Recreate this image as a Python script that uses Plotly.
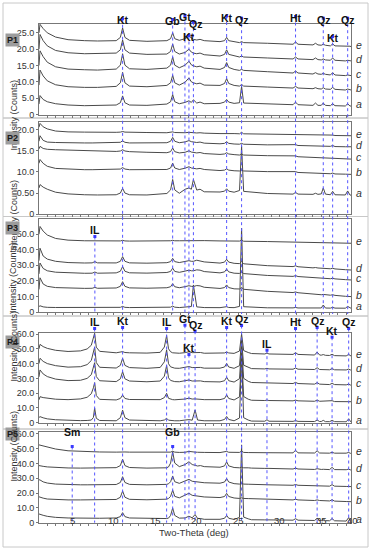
import plotly.graph_objects as go

# 2-theta sampling points (deg) shared by the traces of panels P1-P3 and P4-P5
GRID_A = [1.0, 1.12, 1.5, 2.0, 3.0, 4.5, 6.5, 7.4, 7.73, 8.05, 10.3, 10.8, 11.07, 11.35, 11.9, 14.0,
          16.4, 16.85, 17.1, 17.35, 17.9, 18.6, 19.06, 19.35, 19.6, 20.0, 20.4, 20.9, 22.8, 23.35,
          23.6, 23.85, 24.5, 25.15, 25.4, 25.65, 28.5, 31.6, 31.9, 32.2, 34.0, 34.3, 34.6, 35.0,
          35.24, 35.5, 36.1, 36.37, 36.65, 37.9, 38.18, 38.45, 38.58]
GRID_B = [1.0, 1.12, 1.5, 2.0, 3.0, 4.5, 6.0, 6.8, 7.3, 7.55, 7.7, 7.9, 8.3, 10.3, 10.8, 11.07, 11.35,
          11.9, 14.0, 15.6, 16.1, 16.37, 16.6, 16.85, 17.1, 17.35, 17.9, 18.6, 19.06, 19.45, 19.8,
          20.1, 20.45, 20.9, 22.8, 23.35, 23.6, 23.85, 24.5, 25.15, 25.4, 25.65, 26.2, 26.6, 28.2,
          28.46, 28.7, 31.6, 31.9, 32.2, 34.2, 34.5, 34.8, 35.0, 35.24, 35.5, 36.0, 36.3, 36.6,
          38.0, 38.3, 38.5, 38.58]

# intensities (counts, stacked)
P1_E = [25.0, 27.6, 26.3, 25.0, 23.7, 22.9, 22.6, 22.5, 22.5, 22.5, 22.6, 23.6, 26.5, 23.6, 22.7, 22.4, 22.6, 23.2, 25.0, 23.2, 22.7, 23.2, 24.0, 23.3, 23.0, 22.8, 23.0, 22.6, 22.3, 22.6, 23.6, 22.6, 22.2, 22.0, 22.3, 22.0, 21.8, 21.5, 22.2, 21.5, 21.3, 21.8, 21.3, 21.2, 21.5, 21.2, 21.0, 21.6, 21.0, 20.9, 21.1, 20.9, 20.8]
P1_D = [20.0, 24.5, 22.6, 21.0, 19.6, 18.9, 18.6, 18.6, 18.6, 18.6, 18.8, 19.8, 22.8, 19.8, 18.8, 18.4, 18.5, 19.3, 21.6, 19.3, 18.5, 19.0, 20.0, 19.1, 18.8, 18.6, 18.8, 18.3, 17.9, 18.4, 19.8, 18.4, 17.9, 17.6, 17.9, 17.6, 17.3, 17.0, 17.6, 17.0, 16.8, 17.3, 16.8, 16.7, 17.0, 16.7, 16.6, 17.3, 16.6, 16.4, 16.6, 16.4, 16.4]
P1_C = [15.0, 19.5, 17.7, 16.0, 14.6, 13.9, 13.7, 13.6, 13.6, 13.6, 13.9, 15.1, 18.6, 15.1, 14.0, 13.8, 14.2, 15.1, 17.6, 15.1, 14.3, 15.1, 16.3, 15.2, 14.9, 14.6, 14.8, 14.2, 13.8, 14.4, 15.9, 14.4, 13.8, 13.5, 13.8, 13.5, 13.1, 12.7, 13.3, 12.7, 12.4, 12.8, 12.4, 12.3, 12.6, 12.3, 12.1, 12.8, 12.1, 11.9, 12.1, 11.9, 11.9]
P1_B = [9.0, 13.6, 11.8, 10.3, 9.1, 8.5, 8.3, 8.3, 8.3, 8.3, 8.6, 9.7, 12.9, 9.7, 8.7, 8.5, 8.9, 9.7, 12.0, 9.7, 9.0, 9.9, 11.2, 10.0, 9.7, 9.4, 9.6, 9.0, 8.9, 9.5, 11.0, 9.5, 8.9, 8.7, 9.2, 8.7, 8.4, 8.1, 8.6, 8.1, 7.9, 8.2, 7.9, 7.8, 8.2, 7.8, 7.7, 8.3, 7.7, 7.5, 7.8, 7.5, 7.5]
P1_A = [3.2, 5.8, 4.6, 3.9, 3.3, 2.9, 2.7, 2.7, 2.7, 2.7, 2.9, 3.6, 5.7, 3.6, 2.9, 2.8, 3.2, 3.9, 6.1, 3.9, 3.3, 3.7, 4.2, 3.7, 4.5, 3.5, 3.8, 3.3, 3.4, 3.8, 4.6, 3.8, 3.4, 3.6, 8.6, 3.5, 3.2, 3.0, 3.8, 3.0, 2.8, 3.5, 2.8, 2.8, 3.5, 2.8, 2.7, 3.3, 2.7, 2.6, 3.3, 2.6, 2.6]

P2_E = [20.5, 21.4, 20.6, 20.1, 19.6, 19.4, 19.35, 19.3, 19.3, 19.3, 19.3, 19.35, 19.5, 19.35, 19.3, 19.25, 19.2, 19.25, 19.4, 19.25, 19.2, 19.2, 19.3, 19.2, 19.2, 19.15, 19.2, 19.1, 19.0, 19.0, 19.15, 19.0, 19.0, 18.95, 19.3, 18.95, 18.85, 18.8, 18.9, 18.75, 18.7, 18.75, 18.65, 18.65, 18.7, 18.6, 18.6, 18.65, 18.55, 18.5, 18.55, 18.5, 18.5]
P2_D = [17.2, 18.5, 17.4, 17.0, 16.9, 16.8, 16.8, 16.8, 16.8, 16.8, 16.8, 16.95, 17.3, 16.95, 16.8, 16.8, 16.85, 17.2, 18.1, 17.2, 16.85, 17.05, 17.35, 17.1, 17.0, 16.9, 17.0, 16.75, 16.6, 16.7, 17.1, 16.7, 16.55, 16.5, 16.7, 16.5, 16.35, 16.25, 16.4, 16.2, 16.1, 16.2, 16.1, 16.05, 16.1, 16.0, 16.0, 16.2, 15.95, 15.9, 15.95, 15.9, 15.9]
P2_C = [15.4, 16.0, 15.5, 15.3, 15.2, 15.1, 15.0, 15.0, 14.9, 14.9, 14.8, 14.9, 15.2, 14.9, 14.75, 14.6, 14.5, 14.75, 15.6, 14.75, 14.45, 14.6, 14.95, 14.65, 14.55, 14.45, 14.55, 14.3, 14.1, 14.2, 14.5, 14.2, 14.05, 13.95, 14.15, 13.95, 13.8, 13.6, 13.75, 13.55, 13.4, 13.5, 13.35, 13.3, 13.4, 13.25, 13.2, 13.35, 13.15, 13.05, 13.1, 13.0, 13.0]
P2_B = [12.0, 12.9, 12.0, 11.3, 10.8, 10.6, 10.5, 10.5, 10.5, 10.5, 10.5, 10.65, 11.0, 10.65, 10.5, 10.45, 10.55, 10.9, 12.05, 10.9, 10.55, 10.85, 11.2, 10.9, 10.8, 10.7, 10.8, 10.55, 10.3, 10.4, 10.7, 10.4, 10.25, 10.2, 10.4, 10.2, 10.05, 9.9, 10.05, 9.85, 9.7, 9.8, 9.65, 9.6, 9.7, 9.55, 9.55, 9.7, 9.5, 9.45, 9.5, 9.4, 9.4]
P2_A = [6.2, 7.0, 6.4, 5.9, 5.2, 4.8, 4.6, 4.55, 4.55, 4.55, 4.6, 5.0, 6.1, 5.0, 4.6, 4.55, 4.9, 5.75, 8.2, 5.75, 4.95, 5.9, 6.2, 5.9, 8.2, 5.7, 5.9, 5.3, 5.25, 5.45, 6.0, 5.45, 5.2, 5.6, 16.0, 5.4, 4.9, 4.75, 5.15, 4.75, 4.7, 4.95, 4.7, 4.8, 6.2, 4.75, 4.6, 5.4, 4.6, 4.55, 5.5, 4.55, 4.5]

P3_E = [50.0, 55.0, 52.0, 49.5, 47.3, 46.2, 45.8, 45.7, 45.9, 45.7, 45.6, 45.7, 46.1, 45.7, 45.6, 45.6, 45.7, 45.8, 46.1, 45.8, 45.8, 45.9, 46.1, 45.9, 46.0, 45.9, 46.0, 45.9, 45.7, 45.7, 46.0, 45.7, 45.6, 45.6, 46.2, 45.5, 45.3, 45.0, 45.3, 45.0, 44.8, 44.9, 44.8, 44.7, 44.8, 44.6, 44.5, 44.7, 44.5, 44.3, 44.4, 44.2, 44.2]
P3_D = [33.0, 41.0, 36.0, 34.0, 32.6, 31.8, 31.5, 31.6, 32.4, 31.6, 31.55, 32.6, 35.6, 32.6, 31.6, 31.4, 31.7, 32.4, 34.5, 32.4, 31.8, 32.4, 33.0, 32.6, 32.6, 33.3, 33.0, 32.2, 31.45, 32.1, 33.9, 32.1, 31.3, 31.1, 32.5, 31.0, 29.8, 29.2, 29.7, 29.1, 28.4, 28.6, 28.3, 28.1, 28.3, 28.0, 27.8, 28.1, 27.7, 27.2, 27.3, 27.1, 27.0]
P3_C = [24.5, 31.5, 28.0, 26.5, 25.6, 25.1, 24.9, 24.95, 25.7, 24.95, 25.15, 26.2, 29.2, 26.2, 25.2, 25.0, 25.4, 26.1, 28.2, 26.1, 25.5, 26.3, 26.9, 26.5, 26.5, 27.1, 26.9, 26.0, 25.15, 25.8, 27.6, 25.8, 24.95, 24.8, 26.0, 24.7, 23.5, 22.9, 23.4, 22.8, 22.0, 22.2, 21.9, 21.7, 21.9, 21.6, 21.4, 21.7, 21.3, 20.8, 20.9, 20.7, 20.6]
P3_B = [14.5, 22.0, 18.0, 16.5, 15.7, 15.3, 15.2, 15.25, 15.8, 15.25, 15.45, 16.5, 19.5, 16.5, 15.5, 15.3, 15.6, 16.25, 18.2, 16.25, 15.6, 16.3, 16.9, 16.5, 16.4, 17.0, 16.8, 15.9, 15.15, 15.7, 17.4, 15.7, 14.9, 14.8, 15.8, 14.6, 13.3, 12.5, 12.9, 12.4, 11.4, 11.6, 11.3, 11.1, 11.3, 11.0, 10.8, 11.1, 10.7, 10.1, 10.2, 10.0, 9.9]
P3_A = [3.5, 4.0, 3.3, 3.0, 2.9, 2.85, 2.8, 2.8, 3.0, 2.8, 2.85, 3.0, 3.6, 3.0, 2.85, 2.8, 2.85, 3.1, 3.8, 3.1, 2.85, 2.9, 3.4, 3.5, 17.4, 3.3, 3.1, 2.85, 2.8, 2.9, 3.4, 2.9, 2.8, 3.6, 53.9, 3.4, 2.7, 2.65, 2.9, 2.6, 2.6, 2.7, 2.6, 2.6, 4.5, 2.55, 2.5, 3.0, 2.5, 2.45, 3.6, 2.45, 2.4]

P4_E = [50.0, 53.0, 51.5, 50.3, 49.0, 48.2, 48.6, 49.9, 52.4, 56.7, 60.5, 51.1, 48.3, 47.3, 47.5, 48.1, 47.5, 47.3, 47.1, 47.6, 51.2, 59.0, 50.0, 48.0, 47.3, 47.1, 47.0, 47.4, 48.0, 47.4, 47.5, 47.2, 47.5, 47.0, 46.9, 47.2, 47.9, 47.2, 46.9, 48.5, 60.1, 48.8, 47.5, 46.8, 46.5, 47.1, 46.5, 46.2, 47.4, 46.2, 45.8, 47.8, 45.8, 45.7, 46.1, 45.6, 45.5, 46.3, 45.4, 45.2, 46.2, 45.1, 45.1]
P4_D = [40.0, 43.6, 41.5, 40.0, 38.6, 37.6, 37.9, 39.3, 42.1, 47.0, 51.2, 40.7, 37.5, 37.0, 38.8, 43.6, 38.8, 37.3, 36.8, 37.4, 41.2, 49.3, 39.9, 37.8, 37.1, 36.9, 36.8, 37.3, 38.0, 37.3, 37.4, 37.1, 37.4, 36.9, 36.9, 37.7, 40.1, 37.7, 36.8, 38.6, 56.0, 38.9, 37.3, 36.6, 36.4, 36.8, 36.4, 36.2, 37.0, 36.2, 36.0, 37.2, 36.0, 35.9, 36.2, 35.9, 35.8, 36.6, 35.8, 35.7, 36.3, 35.7, 35.7]
P4_C = [31.0, 35.7, 33.0, 31.2, 29.5, 28.5, 28.7, 30.0, 32.5, 36.8, 40.6, 31.2, 28.4, 27.8, 29.7, 34.5, 29.7, 28.2, 27.7, 28.2, 31.5, 38.7, 30.4, 28.6, 28.0, 27.8, 27.7, 28.2, 28.9, 28.2, 28.3, 28.0, 28.3, 27.8, 27.6, 28.4, 30.8, 28.4, 27.5, 29.8, 52.0, 30.0, 28.0, 27.2, 26.9, 27.3, 26.9, 26.5, 27.3, 26.5, 26.1, 27.1, 26.1, 26.0, 26.3, 25.9, 25.8, 26.6, 25.8, 25.6, 26.1, 25.5, 25.5]
P4_B = [15.5, 17.6, 17.0, 16.5, 15.9, 15.6, 16.1, 17.2, 19.6, 23.6, 27.1, 18.4, 15.8, 15.4, 16.4, 18.7, 16.4, 15.7, 15.4, 15.6, 17.0, 19.9, 16.5, 15.8, 15.6, 15.5, 15.5, 16.0, 16.6, 16.0, 16.1, 15.9, 16.1, 15.6, 15.6, 16.4, 18.8, 16.4, 15.4, 17.5, 47.0, 17.7, 15.9, 15.2, 15.0, 15.3, 15.0, 14.8, 15.3, 14.8, 14.5, 15.3, 14.5, 14.5, 14.7, 14.4, 14.4, 14.9, 14.3, 14.2, 14.6, 14.2, 14.2]
P4_A = [3.5, 4.1, 3.3, 2.6, 2.0, 1.6, 1.4, 1.5, 1.8, 3.5, 9.9, 3.0, 1.5, 1.3, 3.4, 8.5, 3.4, 1.8, 1.3, 1.3, 1.8, 3.0, 1.7, 1.4, 1.3, 1.3, 1.3, 1.5, 2.1, 1.7, 8.6, 1.8, 1.6, 1.3, 1.3, 2.2, 4.2, 2.2, 1.3, 3.2, 45.0, 3.4, 1.8, 1.1, 1.0, 2.0, 1.0, 0.9, 1.4, 0.9, 0.8, 1.8, 0.8, 0.8, 1.6, 0.7, 0.7, 1.6, 0.7, 0.6, 2.6, 0.6, 0.5]

P5_E = [52.6, 52.4, 51.8, 51.0, 49.8, 48.6, 48.1, 48.0, 47.9, 47.9, 47.9, 47.9, 47.8, 47.7, 47.8, 48.1, 47.8, 47.7, 47.6, 47.5, 47.5, 47.5, 47.5, 47.7, 48.3, 47.7, 47.5, 47.6, 48.2, 47.7, 47.7, 47.6, 47.7, 47.5, 47.4, 47.6, 48.2, 47.6, 47.4, 47.5, 48.4, 47.5, 47.4, 47.3, 47.3, 47.3, 47.3, 47.2, 49.0, 47.2, 47.1, 48.6, 47.1, 47.1, 47.3, 47.0, 47.0, 47.6, 47.0, 47.0, 47.5, 46.9, 46.9]
P5_D = [38.6, 38.6, 38.1, 37.7, 37.3, 37.0, 36.9, 36.9, 36.9, 36.9, 36.9, 36.9, 36.9, 37.2, 38.6, 42.9, 38.6, 37.3, 36.9, 36.9, 37.0, 37.1, 37.7, 40.3, 48.0, 40.3, 37.9, 39.3, 41.2, 39.3, 38.8, 38.3, 38.6, 37.9, 37.5, 38.4, 41.1, 38.4, 37.3, 37.1, 37.6, 37.1, 37.1, 36.9, 36.7, 36.8, 36.7, 36.3, 36.9, 36.3, 36.0, 36.5, 36.0, 36.0, 36.1, 35.9, 35.9, 37.4, 35.9, 35.8, 36.2, 35.7, 35.7]
P5_C = [29.0, 28.9, 27.6, 26.8, 26.1, 25.7, 25.6, 25.6, 25.6, 25.6, 25.6, 25.6, 25.6, 25.8, 27.2, 31.1, 27.2, 25.9, 25.6, 25.7, 25.8, 25.9, 26.3, 27.7, 31.6, 27.7, 26.6, 28.0, 29.3, 28.0, 27.8, 27.4, 27.6, 27.0, 26.7, 27.5, 29.9, 27.5, 26.4, 26.1, 26.5, 26.1, 26.0, 25.9, 25.6, 25.7, 25.6, 25.3, 25.8, 25.3, 25.0, 25.4, 25.0, 24.9, 25.0, 24.8, 24.7, 25.7, 24.7, 24.5, 24.7, 24.4, 24.4]
P5_B = [17.5, 17.2, 16.6, 16.0, 15.6, 15.4, 15.4, 15.4, 15.4, 15.4, 15.4, 15.4, 15.4, 15.7, 17.2, 21.4, 17.2, 15.8, 15.5, 15.7, 15.8, 15.9, 16.4, 17.8, 22.0, 17.8, 16.8, 18.4, 19.9, 18.5, 18.2, 17.8, 18.0, 17.4, 17.0, 17.7, 19.8, 17.7, 16.7, 16.4, 16.8, 16.4, 16.3, 16.2, 15.8, 15.9, 15.8, 15.4, 15.9, 15.4, 15.0, 15.4, 15.0, 14.9, 15.0, 14.8, 14.7, 15.5, 14.6, 14.3, 14.5, 14.2, 14.2]
P5_A = [5.9, 5.8, 5.0, 4.3, 3.6, 3.2, 3.0, 3.0, 3.0, 3.0, 3.0, 3.0, 3.0, 3.2, 4.1, 6.8, 4.1, 3.2, 2.9, 2.8, 2.8, 2.8, 3.1, 4.9, 9.9, 4.9, 3.1, 3.2, 4.4, 3.3, 5.5, 2.9, 2.8, 2.3, 2.3, 3.0, 4.9, 3.0, 2.2, 3.6, 52.6, 3.8, 2.6, 2.0, 1.9, 2.1, 1.9, 1.7, 2.7, 1.7, 1.5, 3.0, 1.5, 1.5, 2.4, 1.4, 1.3, 2.8, 1.3, 1.1, 3.5, 1.0, 1.0]

SAMPLES = ["a", "b", "c", "d", "e"]
PANEL_NAMES = ["P1", "P2", "P3", "P4", "P5"]

# reference peak positions (deg) and mineral names
PEAKS_A = [11.07, 17.1, 18.58, 19.06, 19.6, 23.6, 25.4, 31.9, 35.24, 36.37, 38.18]
NAMES_A = ["Kt", "Gb", "Gt", "Kt", "Qz", "Kt", "Qz", "Ht", "Qz", "Kt", "Qz"]
PEAKS_P3 = [7.73]
NAMES_P3 = ["IL"]
PEAKS_B = [7.7, 11.07, 16.37, 18.58, 19.06, 19.8, 23.6, 25.4, 28.46, 31.9, 34.5, 36.3, 38.3]
NAMES_B = ["IL", "Kt", "IL", "Gt", "Kt", "Qz", "Kt", "Qz", "IL", "Ht", "Qz", "Kt", "Qz"]
PEAKS_P5 = [5.0, 17.1]
NAMES_P5 = ["Sm", "Gb"]

Y_TICKS = [
    ([0, 5, 10, 15, 20, 25], ["0", "5.0", "10.0", "15.0", "20.0", "25.0"]),
    ([0, 5, 10, 15, 20], ["0", "0.50", "10.0", "15.0", "20.0"]),
    ([0, 10, 20, 30, 40, 50], ["0", "10.0", "20.0", "30.0", "40.0", "50.0"]),
    ([0, 10, 20, 30, 40, 50, 60], ["0", "10.0", "20.0", "30.0", "40.0", "50.0", "60.0"]),
    ([0, 10, 20, 30, 40, 50, 60], ["0", "10.0", "20.0", "30.0", "40.0", "50.0", "60.0"]),
]
X_TICKS = [5, 10, 15, 20, 25, 30, 35]

W, H = 372, 550
FONT = "Arial, 'Liberation Sans', sans-serif"
XRANGE = [1.0, 38.58]
XDOM = [39 / W, 351 / W]
# pixel top/bottom of each plot area and its y-range top
BOXES = [(24, 114.5, 27.7), (121.7, 214.3, 21.8), (219, 312, 59.8), (332.7, 422.7, 60.9), (432.3, 522.7, 61.1)]
FRAMES = [(3, 118), (118, 216.5), (216.5, 316), (316, 429), (429, 547)]
TITLE_Y = [78, 178, 278, 384, 484]


def yp(py):
    return 1 - py / H


panels = [
    (GRID_A, [P1_A, P1_B, P1_C, P1_D, P1_E]),
    (GRID_A, [P2_A, P2_B, P2_C, P2_D, P2_E]),
    (GRID_A, [P3_A, P3_B, P3_C, P3_D, P3_E]),
    (GRID_B, [P4_A, P4_B, P4_C, P4_D, P4_E]),
    (GRID_B, [P5_A, P5_B, P5_C, P5_D, P5_E]),
]

fig = go.Figure()
annotations = []
shapes = []
layout = {}

for i, (grid, series) in enumerate(panels):
    n = i + 1
    xa, ya = ("x", "y") if n == 1 else (f"x{n}", f"y{n}")
    for name, vals in zip(SAMPLES, series):
        assert len(vals) == len(grid), (PANEL_NAMES[i], name, len(vals))
        fig.add_trace(go.Scatter(x=grid, y=vals, mode="lines", xaxis=xa, yaxis=ya,
                                 line=dict(color="#4a4a4a", width=1), showlegend=False,
                                 hoverinfo="skip"))
        annotations.append(dict(x=359 / W, xref="paper", xanchor="center", y=vals[-1], yref=ya,
                                yshift=2, text=f"<i>{name}</i>", showarrow=False,
                                font=dict(family=FONT, size=10.5, color="#333")))
    top, bot, ymax = BOXES[i]
    layout["xaxis" if n == 1 else f"xaxis{n}"] = dict(
        domain=XDOM, range=XRANGE, anchor=ya, showline=True, mirror=True, linecolor="#777",
        linewidth=1, showgrid=False, zeroline=False, ticks="outside", ticklen=2,
        tickcolor="#777", tickvals=list(range(2, 39)), showticklabels=False, automargin=False,
    )
    tv, tt = Y_TICKS[i]
    layout["yaxis" if n == 1 else f"yaxis{n}"] = dict(
        domain=[yp(bot), yp(top)], range=[0, ymax], anchor=xa, showline=True, mirror=True,
        linecolor="#777", linewidth=1, showgrid=False, zeroline=False, ticks="outside",
        ticklen=2, tickcolor="#777", tickvals=tv, ticktext=tt, automargin=False,
        tickfont=dict(family=FONT, size=9, color="#333"),
    )
    # panel frame, tag and axis title
    f0, f1 = FRAMES[i]
    shapes.append(dict(type="rect", xref="paper", yref="paper", x0=3 / W, x1=368 / W,
                       y0=yp(f1), y1=yp(f0), line=dict(color="#c8c8c8", width=1), layer="below"))
    annotations.append(dict(x=12.5 / W, xref="paper", xanchor="center", y=yp(top + 9),
                            yref="paper", text=f"<b>{PANEL_NAMES[i]}</b>", showarrow=False,
                            bgcolor="#9c9c9c", borderpad=1,
                            font=dict(family=FONT, size=9, color="#1a1a1a")))
    annotations.append(dict(x=13 / W, xref="paper", xanchor="center", y=yp(TITLE_Y[i]),
                            yref="paper", text="Intensity (Counts)", textangle=-90,
                            showarrow=False, font=dict(family=FONT, size=9, color="#333")))

# x tick labels of the bottom panel (the last one sits at the right edge, as in the source)
for v in X_TICKS:
    annotations.append(dict(x=v, xref="x5", y=yp(528), yref="paper", text=str(v), showarrow=False,
                            font=dict(family=FONT, size=9.5, color="#333")))
annotations.append(dict(x=XRANGE[1], xref="x5", y=yp(528), yref="paper", text="40", xshift=1,
                        showarrow=False, font=dict(family=FONT, size=9.5, color="#333")))


def peak_lines(positions, names, label_y, shifts, bottom):
    for pos, name, ly, dx in zip(positions, names, label_y, shifts):
        my = ly + 6.5
        shapes.append(dict(type="line", xref="x", yref="paper", x0=pos, x1=pos, y0=yp(my),
                           y1=yp(bottom), line=dict(color="#5555ff", width=1, dash="dot")))
        shapes.append(dict(type="line", xref="x", yref="paper", x0=pos, x1=pos, y0=yp(my - 1.5),
                           y1=yp(my + 1.5), line=dict(color="#3a3aff", width=3)))
        annotations.append(dict(x=pos, xref="x", y=yp(ly), yref="paper", text=f"<b>{name}</b>",
                                xshift=dx, showarrow=False,
                                font=dict(family=FONT, size=10.5, color="#111")))


peak_lines(PEAKS_A, NAMES_A, [12.3, 13, 9, 29, 15.7, 9.5, 11.7, 10, 11.7, 30, 11.7],
           [0, 0, 0, 0, 2, 0, 0, 0, 0, 0, 0], 314)
peak_lines(PEAKS_P3, NAMES_P3, [230], [0], 312)
peak_lines(PEAKS_B, NAMES_B, [322, 321, 322, 318.7, 348, 324.7, 321, 319, 343.7, 322, 321, 330.7, 322],
           [0] * 13, 522.7)
peak_lines(PEAKS_P5, NAMES_P5, [440, 440], [0, 0], 522.7)

annotations.append(dict(x=194 / W, xref="paper", xanchor="center", y=yp(539.5), yref="paper",
                        text="Two-Theta (deg)", showarrow=False,
                        font=dict(family=FONT, size=9.5, color="#333")))

fig.update_layout(
    width=W, height=H, margin=dict(l=0, r=0, t=0, b=0, autoexpand=False),
    paper_bgcolor="white", plot_bgcolor="rgba(0,0,0,0)",
    font=dict(family=FONT, size=10, color="#333"),
    annotations=annotations, shapes=shapes, **layout,
)

# the page body has a default 8px margin; drop it so the figure sits at the window corner
fig.write_html("out.html", config={"displayModeBar": False},
               post_script="document.body.style.margin='0';")
